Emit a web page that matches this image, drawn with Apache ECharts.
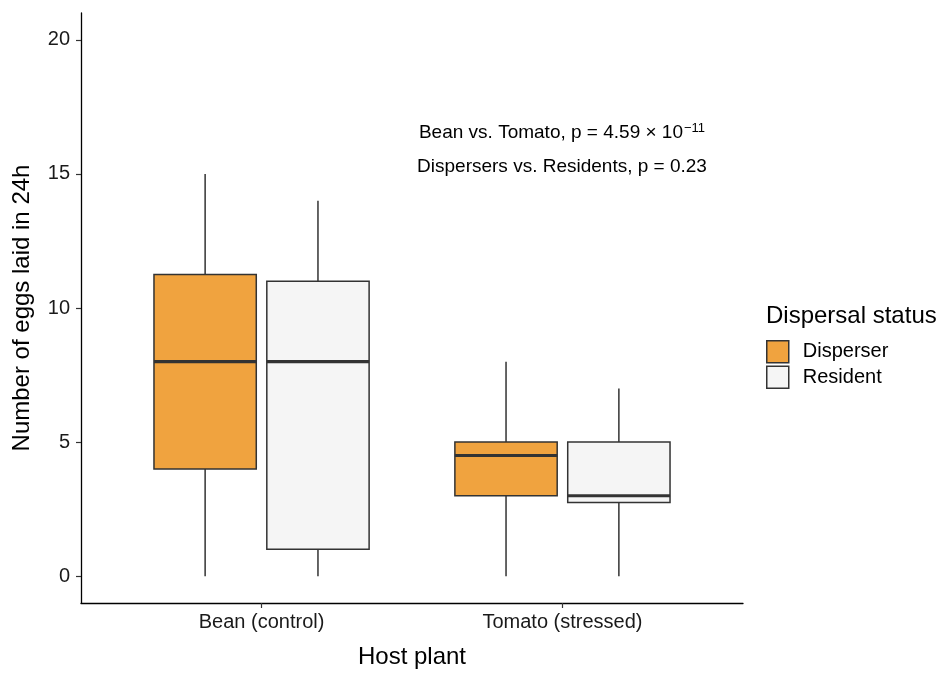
<!DOCTYPE html>
<html>
<head>
<meta charset="utf-8">
<script src="https://cdn.jsdelivr.net/npm/echarts@6/dist/echarts.min.js"></script>
<style>html,body{margin:0;padding:0;background:#fff;width:100%;height:100%;overflow:hidden}#chart{width:100%;height:100%}</style>
</head>
<body>
<div id="chart"></div>
<script>
// ---- data ----
const categories = ['Bean (control)', 'Tomato (stressed)'];
const groups = ['Disperser', 'Resident'];
// [min, Q1, median, Q3, max] per category
const disperserStats = [
  [0, 4, 8, 11.25, 15],
  [0, 3, 4.5, 5, 8]
];
const residentStats = [
  [0, 1, 8, 11, 14],
  [0, 2.75, 3, 5, 7]
];
const yTicks = [0, 5, 10, 15, 20];
const annotation1 = 'Bean vs. Tomato, p = 4.59 × 10';
const annotation1Exp = '−11';
const annotation2 = 'Dispersers vs. Residents, p = 0.23';

const FONT = 'Liberation Sans, Arial, Helvetica, sans-serif';
const fills = ['#F0A33F', '#F5F5F5'];
const lineCol = '#333333';

function buildData(stats) {
  return stats.map((s, i) => [i + 1].concat(s));
}

function makeRender(offset) {
  const hw = 0.17;
  return function (params, api) {
    const x = api.value(0) + offset;
    const mn = api.value(1), q1 = api.value(2), md = api.value(3), q3 = api.value(4), mx = api.value(5);
    const pMin = api.coord([x, mn]);
    const pQ1 = api.coord([x, q1]);
    const pMd = api.coord([x, md]);
    const pQ3 = api.coord([x, q3]);
    const pMax = api.coord([x, mx]);
    const xl = api.coord([x - hw, q1])[0];
    const xr = api.coord([x + hw, q1])[0];
    const fill = api.visual('color');
    return {
      type: 'group',
      children: [
        { type: 'line', shape: { x1: pMin[0], y1: pMin[1], x2: pQ1[0], y2: pQ1[1] }, style: { stroke: lineCol, lineWidth: 1.5 } },
        { type: 'line', shape: { x1: pQ3[0], y1: pQ3[1], x2: pMax[0], y2: pMax[1] }, style: { stroke: lineCol, lineWidth: 1.5 } },
        { type: 'rect', shape: { x: xl, y: pQ3[1], width: xr - xl, height: pQ1[1] - pQ3[1] }, style: { fill: fill, stroke: lineCol, lineWidth: 1.5 } },
        { type: 'line', shape: { x1: xl, y1: pMd[1], x2: xr, y2: pMd[1] }, style: { stroke: lineCol, lineWidth: 3.2 } }
      ]
    };
  };
}

const chart = echarts.init(document.getElementById('chart'), null, { renderer: 'canvas' });
const option = {
  animation: false,
  backgroundColor: '#ffffff',
  textStyle: { fontFamily: FONT },
  grid: { left: 81, right: 195, top: 13, bottom: 65, containLabel: false },
  title: {
    text: 'Dispersal status',
    left: 766, top: 304, padding: 0,
    textStyle: { fontFamily: FONT, fontSize: 24, fontWeight: 'normal', color: '#000' }
  },
  legend: {
    orient: 'vertical',
    left: 766, top: 340,
    padding: 0,
    itemWidth: 22, itemHeight: 22, itemGap: 2,
    icon: 'rect',
    data: groups.map((g, i) => ({ name: g, itemStyle: { color: fills[i], borderColor: lineCol, borderWidth: 1.5 } })),
    textStyle: { fontFamily: FONT, fontSize: 20, color: '#000', padding: [0, 0, 0, 9] }
  },
  xAxis: {
    type: 'value',
    min: 0.4, max: 2.6,
    name: 'Host plant',
    nameLocation: 'middle',
    nameGap: 42,
    nameTextStyle: { fontFamily: FONT, fontSize: 24, color: '#000' },
    axisLine: { onZero: false, lineStyle: { color: '#000', width: 1.3 } },
    axisTick: { show: true, length: 5, customValues: [1, 2], lineStyle: { color: lineCol, width: 1.2 } },
    axisLabel: {
      customValues: [1, 2],
      formatter: v => categories[Math.round(v) - 1] || '',
      fontFamily: FONT, fontSize: 20, color: '#1a1a1a', margin: 9
    },
    splitLine: { show: false }
  },
  yAxis: {
    type: 'value',
    min: -1, max: 21,
    name: 'Number of eggs laid in 24h',
    nameLocation: 'middle',
    nameGap: 47,
    nameTextStyle: { fontFamily: FONT, fontSize: 24, color: '#000' },
    axisLine: { show: true, onZero: false, lineStyle: { color: '#000', width: 1.3 } },
    axisTick: { show: true, length: 5, customValues: yTicks, lineStyle: { color: lineCol, width: 1.2 } },
    axisLabel: { customValues: yTicks, fontFamily: FONT, fontSize: 20, color: '#1a1a1a', margin: 11 },
    splitLine: { show: false }
  },
  graphic: [
    {
      type: 'text', x: 562, y: 133,
      style: {
        text: annotation1 + '{sup|' + annotation1Exp + '}',
        fontFamily: FONT, fontSize: 19, fill: '#000',
        align: 'center', verticalAlign: 'middle',
        rich: { sup: { fontFamily: FONT, fontSize: 13, fill: '#000', padding: [0, 0, 9, 1] } }
      }
    },
    {
      type: 'text', x: 562, y: 167,
      style: { text: annotation2, fontFamily: FONT, fontSize: 19, fill: '#000', align: 'center', verticalAlign: 'middle' }
    }
  ],
  series: [
    {
      name: groups[0], type: 'custom',
      itemStyle: { color: fills[0], borderColor: lineCol, borderWidth: 1.5 },
      encode: { x: 0, y: [1, 2, 3, 4, 5] },
      renderItem: makeRender(-0.1875),
      data: buildData(disperserStats)
    },
    {
      name: groups[1], type: 'custom',
      itemStyle: { color: fills[1], borderColor: lineCol, borderWidth: 1.5 },
      encode: { x: 0, y: [1, 2, 3, 4, 5] },
      renderItem: makeRender(0.1875),
      data: buildData(residentStats)
    }
  ]
};
chart.setOption(option);
</script>
</body>
</html>
